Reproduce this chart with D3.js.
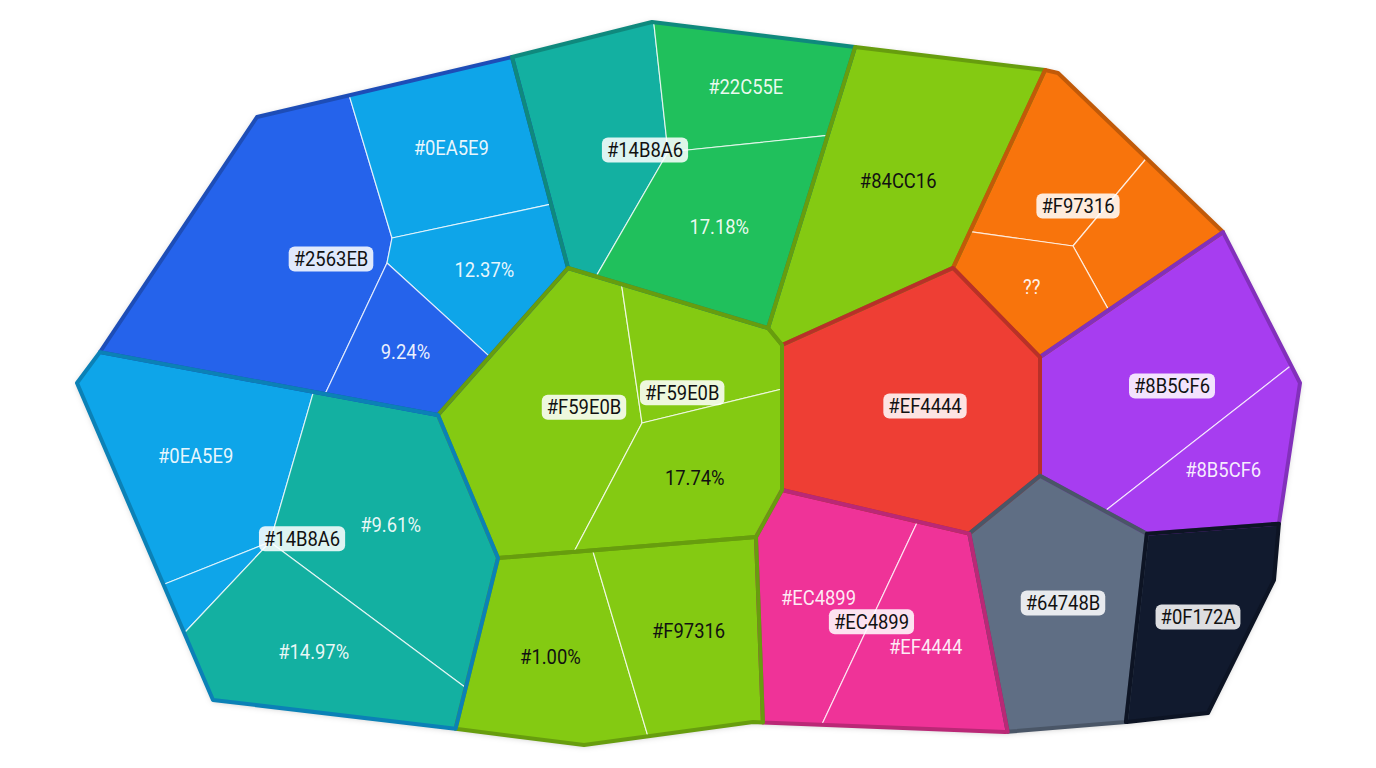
<!DOCTYPE html>
<html>
<head>
<meta charset="utf-8">
<script src="https://cdn.jsdelivr.net/npm/d3@7"></script>
<style>
  html, body { margin: 0; background: #fff; }
  svg { display: block; }
  text { font-family: Roboto, "Noto Sans", sans-serif; }
</style>
</head>
<body>
<svg id="chart" width="1376" height="768"></svg>
<script>
// colours as they show on the picture
const palette = {
    blue: "#2563EB", sky: "#0EA5E9", teal: "#13B0A1", green: "#20C05C", lime: "#84CA12",
    orange: "#F8740C", purple: "#A73DF0", red: "#EE3E34", pink: "#EF3398", slate: "#5F6E84", navy: "#111A2E"
};

// top level groups
const groupChips = ["", "", "", "", "", "", "", "", "#EC4899", "", "", "#14B8A6"];
const groupColors = ["blue", "teal", "lime", "orange", "purple", "red", "slate", "navy", "pink", "lime", "lime", "sky"];
// layout seeds + power weights of the weighted voronoi (layout units)
const groupSites = [[438.4, 264.4], [688.1, 198.1], [838.8, 244.8], [1018.8, 328.5], [1084.7, 425], [920, 425],
    [1019, 546.2], [1094.6, 554.6], [885.8, 572], [620, 425], [632.7, 581.5], [390.6, 521.3]];
const groupWeights = [-10544, -8043, -19378, -24958, -19602, -7200, -18788, -32120, -12971, 0, -13877, -19691];

// leaf cells
const cellGroups = [0, 0, 0, 0, 1, 1, 1, 2, 3, 3, 3, 4, 4, 5, 6, 7, 8, 8, 9, 9, 9, 10, 10, 11, 11, 11, 11];
const cellLabels = ["#2563EB", "#0EA5E9", "12.37%", "9.24%", "#14B8A6", "#22C55E", "17.18%", "#84CC16",
    "#F97316", "", "??", "#8B5CF6", "#8B5CF6", "#EF4444", "#64748B", "#0F172A", "#EC4899", "#EF4444",
    "#F59E0B", "#F59E0B", "17.74%", "#1.00%", "#F97316", "#0EA5E9", "", "#9.61%", "#14.97%"];
const cellChips = [1, 0, 0, 0, 1, 0, 0, 0, 1, 0, 0, 1, 0, 1, 1, 1, 0, 0, 1, 1, 0, 0, 0, 0, 0, 0, 0];
const cellColors = ["blue", "sky", "sky", "blue", "teal", "green", "green", "lime", "orange", "orange", "orange", "purple", "purple",
    "red", "slate", "navy", "pink", "pink", "lime", "lime", "lime", "lime", "lime", "sky", "sky", "teal", "teal"];
const cellSites = [[331, 259], [507.6, 206], [527.2, 298.2], [493.1, 335.6],
    [645, 150], [805.9, 132.3], [818.1, 250.1],
    [904, 182],
    [1078, 206], [1176.2, 288.2], [1057.2, 354.5],
    [1172, 386], [1245.9, 480.6],
    [925, 406], [1063, 603], [1198, 617],
    [815.2, 597.9], [923.8, 649.1],
    [584, 407.3], [682.2, 392.8], [700.7, 468.9],
    [563, 661.1], [678, 626.9],
    [200, 480], [224.5, 541.5], [392.1, 535.6], [320.4, 631.9]];
const cellWeights = [0, 10225, 17741, 13376, 0, 18871, 31621, 0, 0, 10806, 10397, 0, 671, 0, 0, 0, 0, 0,
    0, -1082.5, 1942.5, 0, 0, 0, -6674, 6205, 1878];

// outline the treemap is cut to
const frame = [[77, 383], [100, 352], [257, 117], [512, 57], [652, 22], [855, 47], [1045, 70], [1058, 73], [1223, 232],
    [1300, 383], [1279, 523], [1274, 580], [1208, 713], [1127, 722], [1005, 732], [753, 722], [584, 745], [449, 728], [213, 700]];

const width = 1376, height = 768;
const x = d3.scaleLinear().domain([0, 1376]).range([0, width]);
const y = d3.scaleLinear().domain([0, 768]).range([0, height]);
const k = x(1) - x(0);
const toPx = function (p) { return [x(p[0]), y(p[1])]; };

function clipHalf(poly, ax, ay, c) {
    var out = [];
    for (var i = 0; i < poly.length; i++) {
        var p = poly[i], q = poly[(i + 1) % poly.length];
        var fp = ax * p[0] + ay * p[1] - c, fq = ax * q[0] + ay * q[1] - c;
        if (fp <= 0) out.push(p);
        if ((fp < 0 && fq > 0) || (fp > 0 && fq < 0)) {
            var t = fp / (fp - fq);
            out.push([p[0] + t * (q[0] - p[0]), p[1] + t * (q[1] - p[1])]);
        }
    }
    return out;
}

// power diagram of the sites, cut to region
function powerCells(sites, weights, region) {
    return sites.map(function (s, i) {
        var poly = region;
        sites.forEach(function (t, j) {
            if (j === i || poly.length < 3) return;
            var ax = 2 * (t[0] - s[0]), ay = 2 * (t[1] - s[1]);
            var c = t[0] * t[0] + t[1] * t[1] - s[0] * s[0] - s[1] * s[1] - weights[j] + weights[i];
            poly = clipHalf(poly, ax, ay, c);
        });
        return poly;
    });
}

const groupPolys = powerCells(groupSites.map(toPx), groupWeights.map(function (w) { return w * k * k; }), frame.map(toPx));

const cells = [];
groupPolys.forEach(function (gp, g) {
    var idx = d3.range(cellGroups.length).filter(function (i) { return cellGroups[i] === g; });
    var polys = powerCells(idx.map(function (i) { return toPx(cellSites[i]); }),
        idx.map(function (i) { return cellWeights[i] * k * k; }), gp);
    idx.forEach(function (i, n) {
        cells.push({poly: polys[n], site: toPx(cellSites[i]), label: cellLabels[i], chip: cellChips[i], color: palette[cellColors[i]]});
    });
});

const svg = d3.select("#chart");
const defs = svg.append("defs");
const shadow = defs.append("filter").attr("id", "shadow").attr("x", "-10%").attr("y", "-10%").attr("width", "120%").attr("height", "120%");
shadow.append("feDropShadow").attr("dx", 0).attr("dy", 1).attr("stdDeviation", 3).attr("flood-color", "#000").attr("flood-opacity", 0.25);

const line = function (p) { return "M" + p.map(function (d) { return d.join(","); }).join("L") + "Z"; };

svg.append("path").attr("d", line(frame.map(toPx))).attr("fill", "#fff").attr("filter", "url(#shadow)");

svg.append("g").selectAll("path").data(cells).join("path")
    .attr("d", function (d) { return line(d.poly); })
    .attr("fill", function (d) { return d.color; })
    .attr("stroke", "rgba(255,255,255,0.75)")
    .attr("stroke-width", 1.2)
    .attr("stroke-linejoin", "round");

svg.append("g").selectAll("path").data(groupPolys).join("path")
    .attr("d", line)
    .attr("fill", "none")
    .attr("stroke", function (d, i) { return d3.color(palette[groupColors[i]]).darker(0.7); })
    .attr("stroke-width", 4)
    .attr("stroke-linejoin", "round");

function isLight(c) {
    var rgb = d3.rgb(c);
    var f = function (v) { v /= 255; return v <= 0.03928 ? v / 12.92 : Math.pow((v + 0.055) / 1.055, 2.4); };
    return 0.2126 * f(rgb.r) + 0.7152 * f(rgb.g) + 0.0722 * f(rgb.b) > 0.45;
}

const labels = svg.append("g");

// narrow the glyphs a bit, the picture uses a condensed face
function addText(g, text, fill) {
    var t = g.append("text").attr("text-anchor", "middle").attr("dy", "0.35em")
        .attr("font-size", 20).attr("fill", fill).text(text);
    var len = t.node().getComputedTextLength() * 0.92;
    t.attr("textLength", len).attr("lengthAdjust", "spacingAndGlyphs");
    return len;
}

function addChip(pos, text) {
    var g = labels.append("g").attr("transform", "translate(" + pos[0] + "," + pos[1] + ")");
    var rect = g.append("rect");
    var w = addText(g, text, "#111") + 10;
    rect.attr("x", -w / 2).attr("y", -12.5).attr("width", w).attr("height", 25).attr("rx", 6)
        .attr("fill", "rgba(255,255,255,0.86)");
}

cells.forEach(function (c) {
    if (!c.label) return;
    if (c.chip) { addChip(c.site, c.label); return; }
    var pos = d3.polygonCentroid(c.poly);
    var g = labels.append("g").attr("transform", "translate(" + pos[0] + "," + pos[1] + ")");
    addText(g, c.label, isLight(c.color) ? "#111" : "rgba(255,255,255,0.92)");
});

groupPolys.forEach(function (gp, g) {
    if (groupChips[g]) addChip(d3.polygonCentroid(gp), groupChips[g]);
});
</script>
</body>
</html>
